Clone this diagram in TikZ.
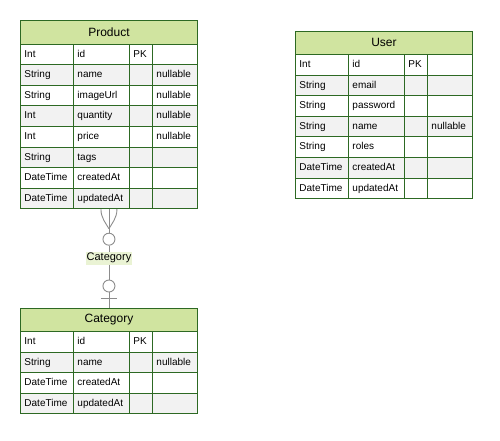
\documentclass[tikz,border=0pt]{standalone}
\usepackage{fontspec}
\setmainfont{Liberation Sans}
\usetikzlibrary{calc}
\definecolor{hdrgreen}{RGB}{208,228,160}
\definecolor{lblgreen}{RGB}{234,243,212}
\definecolor{tblgreen}{RGB}{45,105,35}
\definecolor{rowgray}{RGB}{242,242,242}
\definecolor{linkgray}{RGB}{140,140,140}
\begin{document}
\begin{tikzpicture}[
        x=1pt, y=-1pt,
        cell/.style={draw=tblgreen, line width=0.9pt, anchor=north west, inner xsep=4pt, inner ysep=0pt,
            minimum height=20.6pt, text height=7.5pt, text depth=2pt, align=left,
            font=\fontsize{10}{12}\selectfont},
        hdr/.style={draw=tblgreen, line width=0.9pt, fill=hdrgreen, anchor=north west, inner sep=0pt,
            minimum width=177pt, minimum height=23.5pt, font=\fontsize{12}{14}\selectfont},
        typec/.style={cell, text width=45pt},
        namec/.style={cell, text width=48pt},
        keyc/.style={cell, text width=15pt},
        nullc/.style={cell, text width=37pt},
        link/.style={draw=linkgray, line width=0.9pt},
        endc/.style={circle, draw=linkgray, line width=0.9pt, fill=white, minimum size=12pt, inner sep=0pt},
        linklabel/.style={fill=lblgreen, inner xsep=1pt, inner ysep=1.5pt, font=\fontsize{11}{13}\selectfont},
    ]
    \useasboundingbox (0,0) rectangle (500,440);

    % Product
    \node[hdr](product) at (20,20) {Product};
    \foreach \ty/\nm/\ky/\nl [count=\i] in {Int/id/PK/{}, String/name/{}/nullable, String/imageUrl/{}/nullable,
            Int/quantity/{}/nullable, Int/price/{}/nullable, String/tags/{}/{},
            DateTime/createdAt/{}/{}, DateTime/updatedAt/{}/{}}{
        \ifodd\i \def\rowfill{white}\else\def\rowfill{rowgray}\fi
        \node[typec, fill=\rowfill](product-\i-1) at (20,43.5+20.6*\i-20.6) {\ty};
        \node[namec, fill=\rowfill](product-\i-2) at (73,43.5+20.6*\i-20.6) {\nm};
        \node[keyc, fill=\rowfill](product-\i-3) at (129,43.5+20.6*\i-20.6) {\ky};
        \node[nullc, fill=\rowfill](product-\i-4) at (152,43.5+20.6*\i-20.6) {\nl};
    }

    % User
    \node[hdr](user) at (295,30.5) {User};
    \foreach \ty/\nm/\ky/\nl [count=\i] in {Int/id/PK/{}, String/email/{}/{}, String/password/{}/{},
            String/name/{}/nullable, String/roles/{}/{}, DateTime/createdAt/{}/{}, DateTime/updatedAt/{}/{}}{
        \ifodd\i \def\rowfill{white}\else\def\rowfill{rowgray}\fi
        \node[typec, fill=\rowfill](user-\i-1) at (295,54+20.6*\i-20.6) {\ty};
        \node[namec, fill=\rowfill](user-\i-2) at (348,54+20.6*\i-20.6) {\nm};
        \node[keyc, fill=\rowfill](user-\i-3) at (404,54+20.6*\i-20.6) {\ky};
        \node[nullc, fill=\rowfill](user-\i-4) at (427,54+20.6*\i-20.6) {\nl};
    }

    % Category
    \node[hdr](category) at (20,307.5) {Category};
    \foreach \ty/\nm/\ky/\nl [count=\i] in {Int/id/PK/{}, String/name/{}/nullable,
            DateTime/createdAt/{}/{}, DateTime/updatedAt/{}/{}}{
        \ifodd\i \def\rowfill{white}\else\def\rowfill{rowgray}\fi
        \node[typec, fill=\rowfill](category-\i-1) at (20,331+20.6*\i-20.6) {\ty};
        \node[namec, fill=\rowfill](category-\i-2) at (73,331+20.6*\i-20.6) {\nm};
        \node[keyc, fill=\rowfill](category-\i-3) at (129,331+20.6*\i-20.6) {\ky};
        \node[nullc, fill=\rowfill](category-\i-4) at (152,331+20.6*\i-20.6) {\nl};
    }

    % relation product -> category
    \coordinate (fk) at (product.south |- product-8-1.south);
    \node[linklabel](catlabel) at ($(fk)+(0,49)$) {Category};
    \node[endc](many) at ($(fk)+(0,30)$) {};
    \node[endc](one) at ($(category.north)+(0,-21.5)$) {};
    \draw[link] (fk) -- (many);
    \draw[link] ($(fk)+(-8,0)$) .. controls ($(fk)+(-8,9)$) and ($(fk)+(-3,14)$) .. ($(many.north)+(0,-4)$);
    \draw[link] ($(fk)+(8,0)$) .. controls ($(fk)+(8,9)$) and ($(fk)+(3,14)$) .. ($(many.north)+(0,-4)$);
    \draw[link] (many) -- (catlabel);
    \draw[link] (catlabel) -- (one);
    \draw[link] (one) -- (category);
    \draw[link] ($(category.north)+(-8,-9.5)$) -- ($(category.north)+(8,-9.5)$);
\end{tikzpicture}
\end{document}
